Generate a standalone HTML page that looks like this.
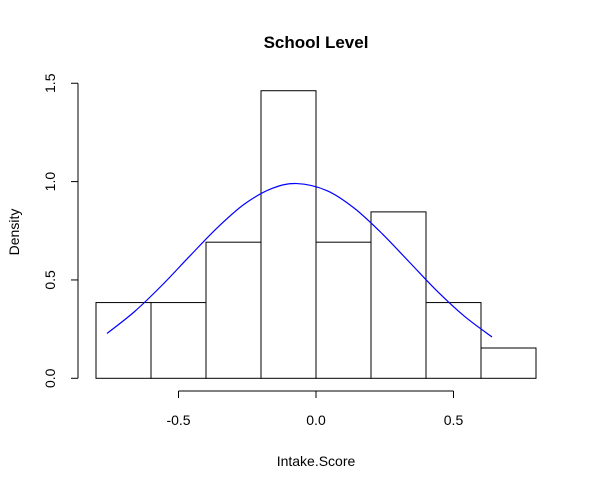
<!DOCTYPE html>
<html><head><meta charset="utf-8"><style>
body{margin:0;background:#fff;}
svg text{font-family:"Liberation Sans",Arial,sans-serif;fill:#000;}
</style></head><body>
<svg id="chart" width="594" height="488" xmlns="http://www.w3.org/2000/svg">
<rect width="594" height="488" fill="#fff"/>
<text x="316" y="48" text-anchor="middle" font-size="17" font-weight="bold">School Level</text>
<text x="316" y="466" text-anchor="middle" font-size="14">Intake.Score</text>
<text transform="translate(19,232) rotate(-90)" text-anchor="middle" font-size="14">Density</text>
<g id="bars"></g><g id="axes"></g><g id="curve"></g>
</svg>
<script>
const binStarts=[-0.8,-0.6,-0.4,-0.2,0.0,0.2,0.4,0.6];
const binWidth=0.2;
const densities=[0.385,0.385,0.692,1.462,0.692,0.846,0.385,0.154];
const xTicks=[-0.5,0.0,0.5];
const xTickLabels=["-0.5","0.0","0.5"];
const yTicks=[0,0.5,1.0,1.5];
const yTickLabels=["0.0","0.5","1.0","1.5"];
const curveX=[-0.76,-0.66,-0.56,-0.46,-0.36,-0.26,-0.16,-0.07,0.04,0.14,0.24,0.34,0.44,0.54,0.64];
const curveY=[0.228,0.339,0.473,0.620,0.764,0.886,0.965,0.99,0.954,0.864,0.736,0.590,0.444,0.315,0.210];
const NS="http://www.w3.org/2000/svg";
const sx=v=>316+v*275;
const sy=v=>378.3-v*196.7;
function mk(tag,attrs,parent){const e=document.createElementNS(NS,tag);for(const k in attrs)e.setAttribute(k,attrs[k]);parent.appendChild(e);return e;}
const bars=document.getElementById('bars');
binStarts.forEach((b,i)=>{
 const r=mk('rect',{x:sx(b),y:sy(densities[i]),width:sx(b+binWidth)-sx(b),height:sy(0)-sy(densities[i]),fill:'none',stroke:'#000','stroke-width':1},bars);
 
 
});
const axes=document.getElementById('axes');
const xa=mk('line',{x1:sx(xTicks[0]),x2:sx(xTicks[xTicks.length-1]),y1:391,y2:391,stroke:'#000'},axes);


xTicks.forEach((t,i)=>{
 mk('line',{x1:sx(t),x2:sx(t),y1:391,y2:398,stroke:'#000'},axes);
 const tx=mk('text',{x:sx(t),y:425,'text-anchor':'middle','font-size':14},axes);
 tx.textContent=xTickLabels[i];
 
 
});
const ya=mk('line',{x1:78,x2:78,y1:sy(yTicks[0]),y2:sy(yTicks[yTicks.length-1]),stroke:'#000'},axes);


yTicks.forEach((t,i)=>{
 mk('line',{x1:71,x2:78,y1:sy(t),y2:sy(t),stroke:'#000'},axes);
 const tx=mk('text',{transform:`translate(55,${sy(t)}) rotate(-90)`,'text-anchor':'middle','font-size':14},axes);
 tx.textContent=yTickLabels[i];
 
 
});
const P=curveX.map((x,i)=>[sx(x),sy(curveY[i])]);
let d='M'+P[0][0]+','+P[0][1];
for(let i=0;i<P.length-1;i++){
 const p0=P[Math.max(i-1,0)],p1=P[i],p2=P[i+1],p3=P[Math.min(i+2,P.length-1)];
 const c1=[p1[0]+(p2[0]-p0[0])/6,p1[1]+(p2[1]-p0[1])/6];
 const c2=[p2[0]-(p3[0]-p1[0])/6,p2[1]-(p3[1]-p1[1])/6];
 d+=` C${c1[0]},${c1[1]} ${c2[0]},${c2[1]} ${p2[0]},${p2[1]}`;
}
const pl=mk('path',{d:d,fill:'none',stroke:'#0000ff','stroke-width':1.2},document.getElementById('curve'));


</script>
</body></html>
